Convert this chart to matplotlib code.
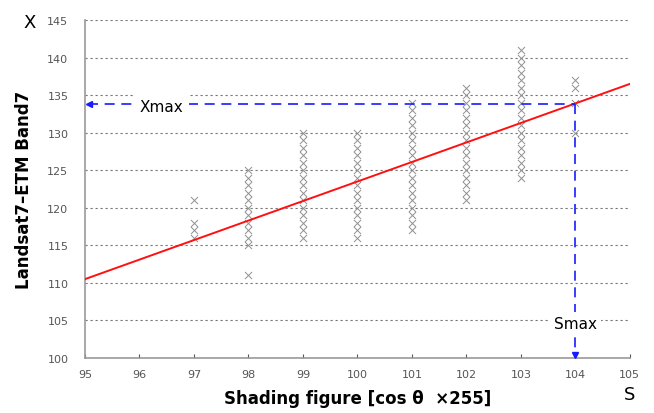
import numpy as np
import matplotlib
matplotlib.use("Agg")
import matplotlib.pyplot as plt

plt.rcParams["font.family"] = ["DejaVu Sans"]

# observed pixel values per shading value (one x per integer level)
shade_levels = [97, 98, 99, 100, 101, 102, 103, 104]
band7_values = [
    [116, 117, 118, 121],
    [111] + list(range(115, 126)),
    list(range(116, 131)),
    list(range(116, 131)),
    list(range(117, 135)),
    list(range(121, 137)),
    list(range(124, 142)),
    [130, 134, 136, 137],
]

# regression line end points (x, y)
fit_x = [95, 105]
fit_y = [110.5, 136.5]

s_max = 104
x_max = 133.8

x_ticks = list(range(95, 106))
y_ticks = list(range(100, 146, 5))

fig = plt.figure(figsize=(6.54, 4.14), dpi=100)
ax = fig.add_axes([0.130, 0.133, 0.833, 0.816])

# scatter columns
for s, vals in zip(shade_levels, band7_values):
    ax.scatter([s] * len(vals), vals, marker="x", s=26, color="#909090",
               linewidths=0.7, zorder=3)

ax.plot(fit_x, fit_y, color="#ff1010", lw=1.4, zorder=4)

# Xmax / Smax guides
blue = "#1a1aff"
ax.plot([95.05, s_max], [x_max, x_max], color=blue, lw=1.2,
        dashes=(6, 4), zorder=5)
ax.plot([s_max, s_max], [x_max, 100.4], color=blue, lw=1.2,
        dashes=(6, 4), zorder=5)
ax.plot([95.08], [x_max], marker="<", color=blue, ms=5, zorder=6,
        clip_on=False)
ax.plot([s_max], [100.35], marker="v", color=blue, ms=5, zorder=6,
        clip_on=False)

ax.text(96.4, x_max - 0.3, "Xmax", fontsize=11, ha="center", va="center",
        bbox=dict(fc="white", ec="none", pad=4), zorder=7)
ax.text(s_max, 104.6, "Smax", fontsize=11, ha="center", va="center",
        bbox=dict(fc="white", ec="none", pad=3), zorder=7)

ax.set_xlim(95, 105)
ax.set_ylim(100, 145)
ax.set_xticks(x_ticks)
ax.set_yticks(y_ticks)
ax.tick_params(labelsize=8, colors="#555555", length=3, direction="in",
               width=0.8)
ax.tick_params(axis="y", length=0, pad=12)
ax.tick_params(axis="x", pad=8)

ax.yaxis.grid(True, color="#777777", ls=(0, (2, 2.5)), lw=0.8)
ax.set_axisbelow(True)
for side in ["top", "right"]:
    ax.spines[side].set_visible(False)
for side in ["left", "bottom"]:
    ax.spines[side].set_color("#999999")
    ax.spines[side].set_linewidth(1.2)

ax.set_ylabel("Landsat7\u2013ETM Band7", fontsize=12, fontweight="bold",
              labelpad=10)
ax.set_xlabel("Shading figure [cos \u03b8  \u00d7255]", fontsize=12,
              fontweight="bold", labelpad=7)

fig.text(0.045, 0.945, "X", fontsize=13, ha="center", va="center")
fig.text(0.963, 0.045, "S", fontsize=13, ha="center", va="center")

fig.savefig("out.png", dpi=100)
